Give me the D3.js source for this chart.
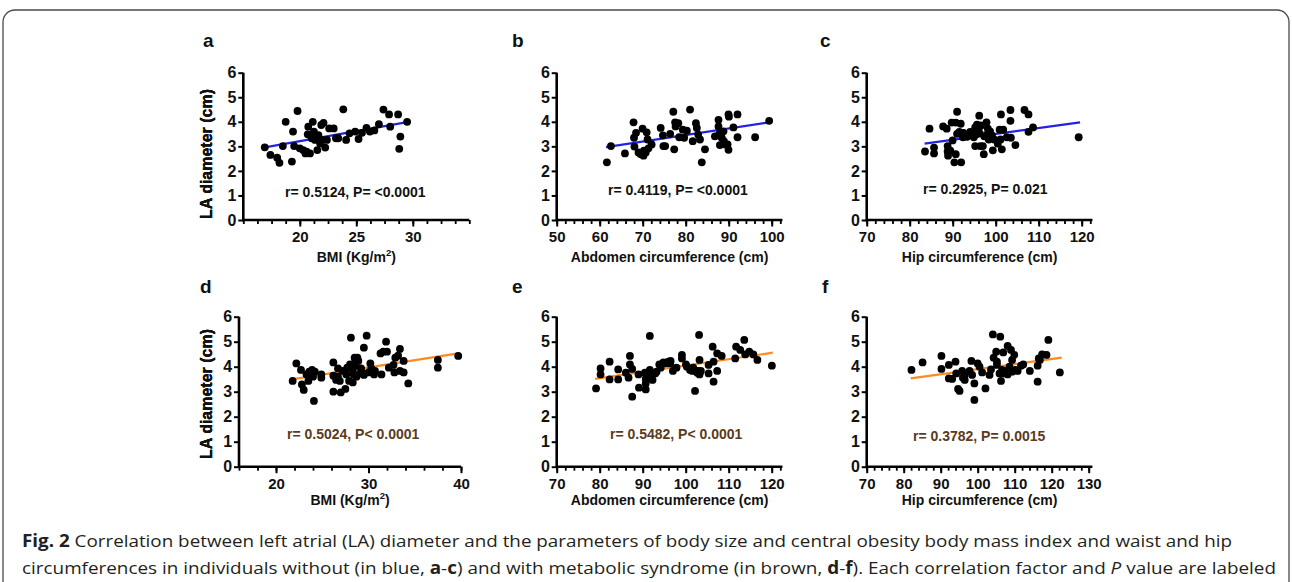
<!DOCTYPE html>
<html><head><meta charset="utf-8">
<script src="https://cdn.jsdelivr.net/npm/d3@7"></script>
<style>body{margin:0;background:#fff} svg{display:block}</style>
</head><body>
<svg id="c" width="1292" height="582"></svg>
<script>
// ---------- DATA ----------
const yTicks = [0,1,2,3,4,5,6];

const aX = [16.9,17.4,18.0,18.2,18.5,18.75,19.3,19.4,19.5,19.8,20.0,20.3,20.5,20.6,20.7,20.75,20.9,21.05,21.15,21.25,21.35,21.45,21.55,21.65,21.8,21.9,22.0,22.1,22.25,22.4,22.6,23.0,23.2,23.4,23.85,24.1,24.4,24.9,25.2,25.5,25.9,26.2,26.6,27.0,27.4,27.9,28.0,28.7,28.8,28.9,29.5];
const aY = [2.96,2.65,2.54,2.33,3.01,4.0,2.38,3.6,3.01,4.44,2.92,2.85,2.71,2.78,3.49,3.8,2.71,3.33,4.0,3.6,3.26,3.42,2.85,3.46,3.12,3.87,3.26,3.96,2.95,3.26,3.73,3.73,3.33,3.33,4.51,3.26,3.53,3.6,3.3,3.55,3.75,3.6,3.65,3.9,4.5,4.3,3.8,4.3,2.9,3.4,4.0];
const aFit = [[16.9,2.96],[29.5,3.99]];

const bX = [61.67,62.61,65.87,67.87,67.98,68.08,68.45,69.03,69.55,69.97,70.18,70.29,70.71,70.92,71.13,71.34,72.08,74.18,74.70,74.81,75.23,76.39,77.12,77.33,77.54,77.65,78.28,78.49,79.33,79.64,80.27,81.01,81.64,82.38,82.59,82.90,83.32,83.74,84.48,86.79,87.63,87.63,87.84,87.95,88.37,88.79,88.89,89.21,89.74,89.95,89.95,90.05,91.10,92.05,92.05,96.15,99.41];
const bY = [2.35,3.01,2.71,3.98,3.35,2.99,3.55,2.75,2.68,3.72,2.62,2.82,2.75,3.57,3.28,2.92,3.08,3.75,3.45,3.01,3.01,3.51,4.41,2.88,3.98,3.81,3.94,3.37,3.68,3.35,3.64,4.5,3.21,3.94,3.75,3.48,3.28,2.35,2.88,3.41,4.08,3.81,3.51,3.05,3.35,3.61,3.21,3.08,3.08,2.86,4.3,4.21,3.77,4.3,3.37,3.37,4.04];
const bFit = [[61.46,2.97],[99.41,3.98]];

const cX = [83.56,84.61,85.66,85.66,87.77,88.61,88.82,88.82,88.92,89.45,89.76,89.97,90.39,90.71,90.71,91.02,91.02,91.55,91.87,91.97,92.39,92.50,93.34,94.07,94.91,95.23,95.23,95.44,95.65,96.07,96.17,96.28,96.39,96.60,97.02,97.23,97.33,97.86,97.96,98.17,98.38,98.70,99.12,99.33,99.64,100.49,100.91,101.12,101.22,101.43,101.75,102.59,103.43,103.43,103.53,104.58,106.69,107.63,107.63,108.68,119.30];
const cY = [2.79,3.72,2.95,2.71,3.81,3.72,3.01,2.79,2.62,2.82,3.97,3.24,2.35,3.97,2.68,4.41,3.51,3.59,3.92,2.35,3.37,3.55,3.39,3.59,3.37,3.77,3.01,3.48,3.88,3.75,4.25,3.53,3.01,3.85,3.01,2.68,3.41,3.98,3.48,3.72,3.28,3.61,3.45,2.84,3.28,3.11,3.68,3.28,4.3,2.88,3.68,3.37,4.48,4.04,3.35,3.05,4.48,4.3,3.59,3.77,3.37];
const cFit = [[83.46,3.11],[119.62,3.98]];

const dX = [21.8,22.2,22.7,22.8,23.0,23.3,23.5,23.6,23.9,24.0,24.1,24.2,24.9,24.9,26.2,26.2,26.2,26.5,26.7,26.7,26.9,27.0,27.2,27.5,27.6,27.7,27.9,28.0,28.1,28.3,28.3,28.4,28.5,28.5,28.6,28.7,28.8,28.9,29.1,29.2,29.4,29.5,29.5,29.8,30.0,30.2,30.3,30.6,30.7,31.3,31.4,31.6,31.9,32.0,32.2,32.7,32.8,32.9,33.2,33.4,33.4,33.8,33.8,34.3,37.5,37.5,39.7];
const dY = [3.43,4.13,3.87,3.29,3.07,3.69,3.43,3.8,3.87,3.6,2.63,3.8,3.69,3.56,4.17,3.64,3.0,3.47,3.93,3.6,3.43,2.97,3.83,3.11,3.69,3.96,3.43,4.09,5.16,3.37,3.87,3.69,4.36,4.13,4.04,3.6,4.36,4.23,3.73,3.93,3.73,4.76,3.67,5.24,3.77,4.13,3.93,3.69,3.83,4.53,3.69,4.6,5.0,4.6,3.96,4.07,3.77,4.36,4.44,4.71,3.83,4.23,3.77,3.33,4.27,3.96,4.43];
const dFit = [[21.7,3.49],[39.7,4.53]];

const eX = [79.15,80.20,80.20,82.30,82.30,84.30,84.30,86.08,86.71,87.03,87.03,87.56,87.56,89.03,89.13,90.50,90.71,90.71,90.71,91.66,91.66,92.08,92.29,92.92,93.23,93.86,94.18,94.81,95.23,95.97,96.39,96.49,97.02,97.86,99.12,99.12,100.06,100.28,101.01,101.54,101.75,102.17,102.38,102.69,102.90,103.11,103.22,103.22,103.53,105.32,105.32,106.27,106.48,106.48,107.32,107.32,108.37,111.52,111.73,112.68,113.62,113.84,114.78,115.73,116.67,120.04];
const eY = [3.13,3.93,3.69,4.2,3.49,3.89,3.49,3.76,3.56,4.43,4.09,3.91,2.8,3.69,3.16,3.76,3.51,3.33,3.09,3.87,5.23,3.64,3.47,3.73,3.8,4.09,3.96,4.17,4.13,4.2,4.13,4.23,3.83,3.96,4.47,4.33,4.09,4.0,3.87,3.83,3.96,3.03,3.83,3.76,3.83,5.27,4.27,3.69,3.83,3.73,4.07,4.8,4.2,3.4,3.83,4.53,4.43,4.33,4.8,4.67,5.07,4.49,4.6,4.49,4.27,4.04];
const eFit = [[78.94,3.51],[120.25,4.56]];

const fX = [82.1,85.1,90.2,90.2,92.2,92.2,93.1,94.0,94.2,94.7,95.1,95.8,96.0,96.5,96.5,97.8,98.3,98.5,99.1,99.1,100.0,100.5,101.2,102.1,103.2,103.6,104.1,104.3,105.0,105.2,105.2,105.9,106.1,106.3,106.6,106.9,107.2,107.7,108.1,108.1,108.6,109.0,109.3,109.3,109.9,110.2,110.8,111.7,112.3,114.1,116.2,116.2,116.5,116.8,117.4,118.6,119.1,122.2];
const fY = [3.87,4.17,4.43,3.91,4.07,3.53,3.51,4.2,3.73,3.11,3.03,3.83,3.56,3.67,3.47,3.83,4.23,3.67,3.33,2.67,4.13,4.0,3.77,3.13,3.67,3.89,5.29,4.36,4.6,4.2,4.07,3.73,5.2,3.43,3.87,4.57,3.73,3.83,4.83,3.69,4.0,4.67,4.27,3.8,4.47,3.87,3.83,4.04,4.09,3.83,3.4,4.04,4.33,4.27,4.49,4.47,5.07,3.77];
const fFit = [[81.9,3.53],[122.7,4.36]];

const xDomains = {a:[15,35], b:[50,102.5], c:[70,122.5], d:[16,40], e:[70,122.5], f:[70,131]};
const xMajor = {a:[20,25,30], b:[50,60,70,80,90,100], c:[70,80,90,100,110,120], d:[20,30,40], e:[70,80,90,100,110,120], f:[70,80,90,100,110,120,130]};
const xMinorStep = {a:1.25, b:2, c:2, d:2, e:2, f:2};
const xTitles = {a:"BMI", b:"Abdomen circumference (cm)", c:"Hip circumference (cm)", d:"BMI", e:"Abdomen circumference (cm)", f:"Hip circumference (cm)"};
const stats = {a:"r= 0.5124, P= <0.0001", b:"r= 0.4119, P= <0.0001", c:"r= 0.2925, P= 0.021", d:"r= 0.5024, P< 0.0001", e:"r= 0.5482, P< 0.0001", f:"r= 0.3782, P= 0.0015"};
const yTitle = "LA diameter (cm)";

// ---------- LAYOUT ----------
const rows = [
  {y0:220, y6:72.7, titleY:262, yTitleY:154, letterY:47},
  {y0:466.7, y6:316.7, titleY:505, yTitleY:394, letterY:293.3}
];
const layout = {
  a:{x0:243.3, w:226, row:0, lx:203, sx:285, sy:196.5, X:aX, Y:aY, fit:aFit},
  b:{x0:556.7, w:225.75, row:0, lx:512, sx:608, sy:195, X:bX, Y:bY, fit:bFit},
  c:{x0:866.7, w:225.75, row:0, lx:820, sx:923, sy:193.5, X:cX, Y:cY, fit:cFit},
  d:{x0:239, w:222, row:1, lx:200, sx:287, sy:439, X:dX, Y:dY, fit:dFit},
  e:{x0:556.7, w:225.75, row:1, lx:512, sx:610, sy:439, X:eX, Y:eY, fit:eFit},
  f:{x0:866.7, w:225.7, row:1, lx:822, sx:913, sy:441, X:fX, Y:fY, fit:fFit}
};

const FONT = "'Liberation Sans', Arial, Helvetica, sans-serif";
const svg = d3.select('#c');

// frame
svg.append('rect').attr('x',3).attr('y',10).attr('width',1286).attr('height',640)
  .attr('rx',12).attr('fill','none').attr('stroke','#4a4a4a').attr('stroke-width',1.3);

Object.keys(layout).forEach(id => {
  const L = layout[id], R = rows[L.row];
  const xs = d3.scaleLinear().domain(xDomains[id]).range([L.x0, L.x0 + L.w]);
  const ys = d3.scaleLinear().domain([0,6]).range([R.y0, R.y6]);
  const g = svg.append('g').attr('font-family', FONT);
  const lineColor = L.row === 0 ? '#2222e6' : '#ff8a1f';
  const statColor = L.row === 0 ? '#111' : '#5a3b1c';

  // regression line
  g.append('line')
    .attr('x1', xs(L.fit[0][0])).attr('y1', ys(L.fit[0][1]))
    .attr('x2', xs(L.fit[1][0])).attr('y2', ys(L.fit[1][1]))
    .attr('stroke', lineColor).attr('stroke-width', 2.2);

  // points
  g.selectAll('circle.pt').data(L.X.map((v,i)=>[v, L.Y[i]])).enter().append('circle')
    .attr('class','pt').attr('cx', d=>xs(d[0])).attr('cy', d=>ys(d[1])).attr('r', 3.9).attr('fill', '#000');

  // minor x ticks
  const dm = xDomains[id];
  const minor = d3.range(dm[0], dm[1] + 1e-9, xMinorStep[id]);
  const gxMinor = g.append('g').attr('transform', `translate(0,${R.y0})`)
    .call(d3.axisBottom(xs).tickValues(minor).tickSize(4).tickSizeOuter(0).tickFormat(''));
  gxMinor.select('.domain').remove();
  gxMinor.selectAll('line').attr('stroke','#000').attr('stroke-width',1.8);

  // major x ticks + labels
  const gx = g.append('g').attr('transform', `translate(0,${R.y0})`)
    .call(d3.axisBottom(xs).tickValues(xMajor[id]).tickSize(6.5).tickSizeOuter(0).tickPadding(5).tickFormat(d3.format('d')));
  gx.select('.domain').attr('stroke','#000').attr('stroke-width',2.6).attr('d', `M${L.x0},0H${L.x0+L.w}`);
  gx.selectAll('.tick line').attr('stroke','#000').attr('stroke-width',2);
  gx.selectAll('.tick text').attr('font-size',15).attr('font-weight','bold').attr('fill','#111').attr('font-family',FONT);

  // y axis
  const gy = g.append('g').attr('transform', `translate(${L.x0},0)`)
    .call(d3.axisLeft(ys).tickValues(yTicks).tickSize(5).tickSizeOuter(0).tickPadding(1.8).tickFormat(d3.format('d')));
  gy.select('.domain').attr('stroke','#000').attr('stroke-width',2.6).attr('d', `M0,${R.y0+1.3}V${R.y6}`);
  gy.selectAll('.tick line').attr('stroke','#000').attr('stroke-width',2);
  gy.selectAll('.tick text').attr('font-size',16).attr('font-weight','bold').attr('fill','#111').attr('font-family',FONT);

  // x title
  const xt = g.append('text').attr('x', L.x0 + L.w/2).attr('y', R.titleY)
    .attr('text-anchor','middle').attr('font-size',14).attr('font-weight','bold').attr('fill','#111');
  if (xTitles[id] === 'BMI') {
    xt.append('tspan').text('BMI (Kg/m');
    xt.append('tspan').attr('font-size',9.5).attr('dy',-6).text('2');
    xt.append('tspan').attr('dy',6).text(')');
  } else {
    xt.text(xTitles[id]);
  }

  // y title
  g.append('text').attr('transform', `translate(212,${R.yTitleY}) rotate(-90)`)
    .attr('text-anchor','middle').attr('font-size',16).attr('font-weight','bold').attr('fill','#111')
    .text(yTitle);

  // panel letter
  g.append('text').attr('x', L.lx).attr('y', R.letterY).attr('font-size',19).attr('font-weight','bold')
    .attr('fill','#111').text(id);

  // stat text
  g.append('text').attr('x', L.sx).attr('y', L.sy).attr('font-size',14).attr('font-weight','bold')
    .attr('fill', statColor).text(stats[id]);
});

// caption
const CF = "'Open Sans', 'Noto Sans', sans-serif";
const cap1 = svg.append('text').attr('x',22).attr('y',547).attr('font-family',CF).attr('font-size',17)
  .attr('fill','#231f20').attr('textLength',1210).attr('lengthAdjust','spacingAndGlyphs');
cap1.append('tspan').attr('font-weight','bold').text('Fig. 2');
cap1.append('tspan').text(' Correlation between left atrial (LA) diameter and the parameters of body size and central obesity body mass index and waist and hip');

const cap2 = svg.append('text').attr('x',22).attr('y',574).attr('font-family',CF).attr('font-size',17)
  .attr('fill','#231f20').attr('textLength',1254).attr('lengthAdjust','spacingAndGlyphs');
[['circumferences in individuals without (in blue, ',''],['a','b'],['-',''],['c','b'],[') and with metabolic syndrome (in brown, ',''],['d','b'],['-',''],['f','b'],['). Each correlation factor and ',''],['P','i'],[' value are labeled','']]
  .forEach(([t,s]) => {
    const ts = cap2.append('tspan').text(t);
    if (s==='b') ts.attr('font-weight','bold');
    if (s==='i') ts.attr('font-style','italic');
  });
</script>
</body></html>
